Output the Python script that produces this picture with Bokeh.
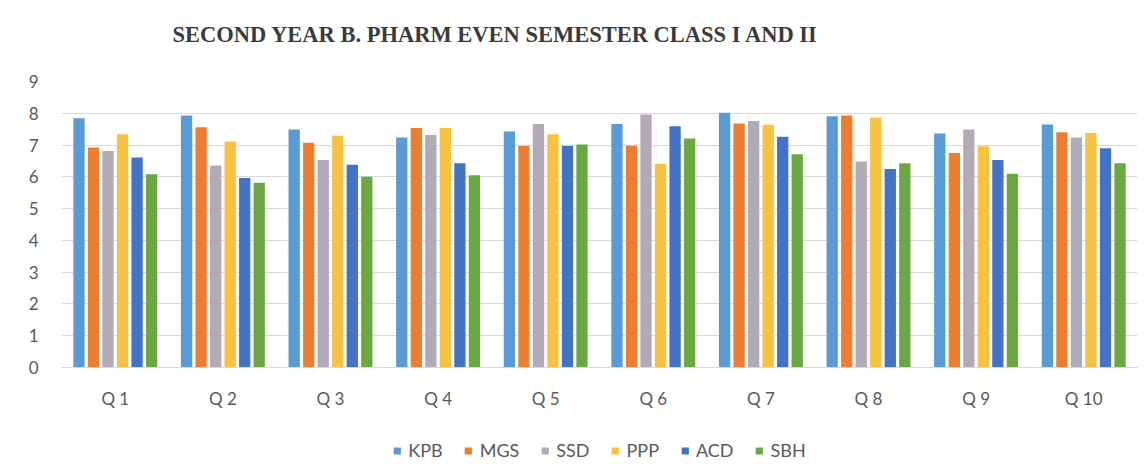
from bokeh.plotting import figure
from bokeh.models import (ColumnDataSource, FactorRange, Range1d, Legend, LegendItem,
                          Title, SingleIntervalTicker)
from bokeh.layouts import column
from bokeh.transform import dodge
from bokeh.embed import file_html
from bokeh.resources import INLINE

questions = ["Q 1", "Q 2", "Q 3", "Q 4", "Q 5", "Q 6", "Q 7", "Q 8", "Q 9", "Q 10"]
series_names = ["KPB", "MGS", "SSD", "PPP", "ACD", "SBH"]

kpb = [7.84, 7.93, 7.49, 7.24, 7.43, 7.66, 8.02, 7.91, 7.36, 7.65]
mgs = [6.92, 7.56, 7.07, 7.54, 6.97, 6.98, 7.68, 7.93, 6.75, 7.40]
ssd = [6.81, 6.36, 6.53, 7.32, 7.66, 7.96, 7.76, 6.48, 7.49, 7.24]
ppp = [7.34, 7.11, 7.29, 7.54, 7.34, 6.41, 7.64, 7.87, 6.96, 7.38]
acd = [6.61, 5.96, 6.38, 6.43, 6.97, 7.59, 7.26, 6.25, 6.53, 6.90]
sbh = [6.08, 5.81, 6.00, 6.05, 7.02, 7.21, 6.71, 6.43, 6.10, 6.43]

colors = ["#5B9BD5", "#ED7D31", "#B3AAB8", "#F7C142", "#4472C4", "#6BA843"]

source = ColumnDataSource(data=dict(q=questions, KPB=kpb, MGS=mgs, SSD=ssd,
                                    PPP=ppp, ACD=acd, SBH=sbh))

FONT = "Lato"
TXT = "#595959"

p = figure(x_range=FactorRange(*questions), y_range=Range1d(0, 9),
           frame_width=1076, frame_height=286,
           output_backend="svg", toolbar_location=None,
           min_border_left=61, min_border_right=2, min_border_top=81,
           min_border_bottom=0)
p.title = None
p.add_layout(Title(text="SECOND YEAR B. PHARM EVEN SEMESTER CLASS I AND II\n ",
                   text_font="Liberation Serif", text_font_style="bold",
                   text_font_size="22.5px", text_color="#3A3A3A",
                   align="left", offset=111, standoff=20,
                   vertical_align="bottom"), "above")

step = 0.135
width = 0.105
for i, (name, col) in enumerate(zip(series_names, colors)):
    off = (i - 2.5) * step
    p.vbar(x=dodge("q", off, range=p.x_range), top=name, width=width,
           source=source, fill_color=col, line_color=None)

p.outline_line_color = None
p.xgrid.grid_line_color = None
p.ygrid.grid_line_color = "#D9D9D9"
p.ygrid.grid_line_width = 1
p.yaxis.ticker = SingleIntervalTicker(interval=1)
for ax in (p.xaxis, p.yaxis):
    ax.axis_line_color = None
    ax.major_tick_line_color = None
    ax.minor_tick_line_color = None
    ax.major_label_text_font = FONT
    ax.major_label_text_font_size = "17px"
    ax.major_label_text_color = TXT
p.xaxis.axis_line_color = "#D9D9D9"
p.xaxis.major_label_standoff = 14
p.yaxis.major_label_standoff = 17

# legend strip below the chart (swatch renderers sit outside the visible range)
lg = figure(width=1139, height=66, output_backend="svg", toolbar_location=None,
            min_border=0, min_border_top=12,
            x_range=Range1d(0, 1), y_range=Range1d(0, 1))
lg.axis.visible = False
lg.grid.visible = False
lg.outline_line_color = None
items = []
for name, col in zip(series_names, colors):
    r = lg.vbar(x=[-5], top=[0], width=0.1, fill_color=col, line_color=None)
    items.append(LegendItem(label=name, renderers=[r]))
legend = Legend(items=items, orientation="horizontal", location="center",
                label_text_font=FONT, label_text_font_size="18px",
                label_text_color=TXT, glyph_width=9, glyph_height=9,
                label_standoff=7, spacing=21, border_line_color=None,
                background_fill_alpha=0, padding=0, margin=0)
lg.add_layout(legend, "center")

layout = column(p, lg, spacing=0)
open("out.html", "w").write(file_html(layout, INLINE))
